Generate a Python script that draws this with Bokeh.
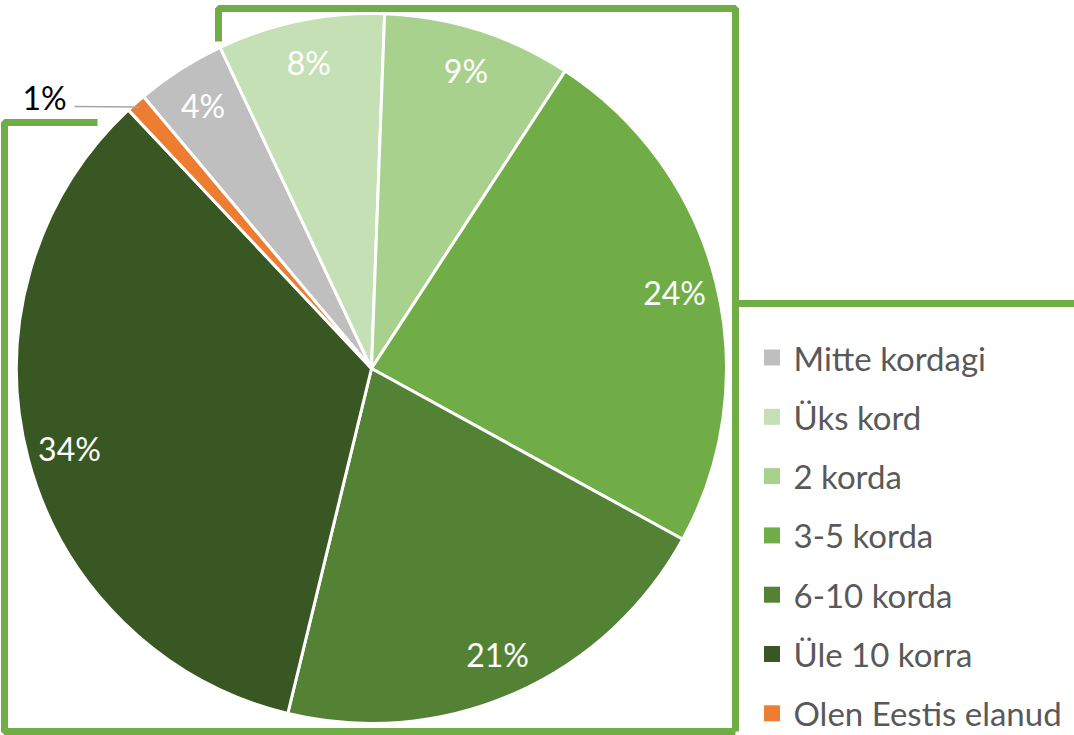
import math
from bokeh.plotting import figure
from bokeh.models import Range1d, ColumnDataSource
from bokeh.core.properties import value
from bokeh.embed import file_html
from bokeh.resources import INLINE

# ---- data ----
categories = ["Mitte kordagi", "Üks kord", "2 korda", "3-5 korda",
              "6-10 korda", "Üle 10 korra", "Olen Eestis elanud"]
shares = [4.1, 7.6, 8.6, 23.8, 20.8, 34.2, 0.9]
colors = ["#BFBFBF", "#C5E0B4", "#A9D18E", "#70AD47",
          "#548235", "#385723", "#ED7D31"]

FIRST_SLICE = 320  # degrees, clockwise from 12 o'clock
FONT = "Lato"
W, H = 1074, 735

p = figure(width=W, height=H, x_range=Range1d(0, W), y_range=Range1d(-H, 0),
           output_backend="svg", toolbar_location=None, min_border=0,
           x_axis_location=None, y_axis_location=None)
p.grid.visible = False
p.outline_line_color = None
p.background_fill_color = "white"
p.border_fill_color = "white"

cx, cy, R = 371, -368, 355
total = sum(shares)
cum = FIRST_SLICE
starts, ends, mids = [], [], []
for s in shares:
    a0 = cum
    a1 = cum + s / total * 360
    starts.append(math.radians(90 - a0))
    ends.append(math.radians(90 - a1))
    mids.append(math.radians((a0 + a1) / 2))
    cum = a1

src = ColumnDataSource(dict(cat=categories, share=shares, color=colors,
                            start=starts, end=ends))
p.wedge(x=cx, y=cy, radius=R, start_angle="start", end_angle="end",
        direction="clock", fill_color="color", line_color="white",
        line_width=3, source=src)

# frame decoration
frame_color = "#70AD47"
p.multi_line(xs=[[218, 218, 735, 735], [97, 4, 4, 735], [735, 1074]],
             ys=[[-41, -8, -8, -731], [-122, -122, -731, -731], [-303, -303]],
             line_color=frame_color, line_width=7)

# data labels
labels = [f"{round(s)}%" for s in shares]
lx, ly, lc = [], [], []
for i, m in enumerate(mids):
    if i == 6:  # small slice: label outside with leader line
        lx.append(44); ly.append(-97); lc.append("#000000")
        ex = cx + R * 0.985 * math.sin(m)
        ey = cy + R * 0.985 * math.cos(m)
        p.line(x=[74, ex], y=[-106, ey], line_color="#A6A6A6", line_width=1.5)
    else:
        lx.append(cx + 0.88 * R * math.sin(m))
        ly.append(cy + 0.88 * R * math.cos(m))
        lc.append("#FFFFFF")
p.text(x=lx, y=ly, text=labels, text_color=lc, text_font=value(FONT),
       text_font_size="32px", text_align="center", text_baseline="middle")

# legend
n = len(categories)
leg_y = [-(357 + i * 59.3) for i in range(n)]
p.rect(x=[771.5] * n, y=leg_y, width=16, height=16, fill_color=colors, line_color=None)
p.text(x=[793] * n, y=leg_y, text=categories, text_color="#595959",
       text_font=value(FONT), text_font_size="33px", text_align="left",
       text_baseline="middle")

open("out.html", "w").write(file_html(p, INLINE))
